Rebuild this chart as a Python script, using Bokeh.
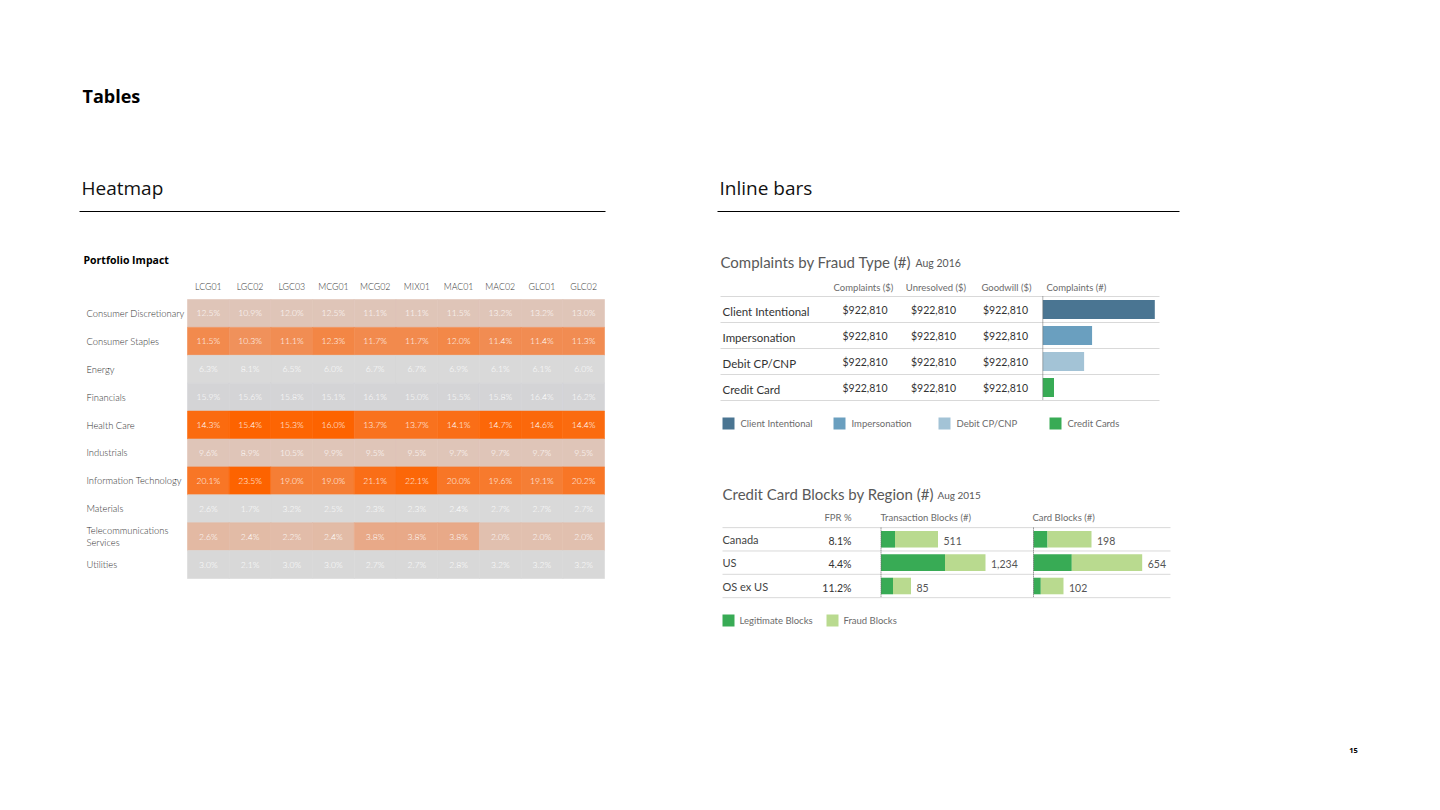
from bokeh.plotting import figure
from bokeh.models import Range1d, LinearColorMapper, ColumnDataSource
from bokeh.core.properties import value
from bokeh.embed import file_html
from bokeh.resources import INLINE

# ---------------- data ----------------
hm_cols = ["LCG01", "LGC02", "LGC03", "MCG01", "MCG02", "MIX01", "MAC01", "MAC02", "GLC01", "GLC02"]
hm_rows = ["Consumer Discretionary", "Consumer Staples", "Energy", "Financials", "Health Care",
           "Industrials", "Information Technology", "Materials", "Telecommunications\nServices", "Utilities"]
hm_values = [
    [12.5, 10.9, 12.0, 12.5, 11.1, 11.1, 11.5, 13.2, 13.2, 13.0],
    [11.5, 10.3, 11.1, 12.3, 11.7, 11.7, 12.0, 11.4, 11.4, 11.3],
    [6.3, 8.1, 6.5, 6.0, 6.7, 6.7, 6.9, 6.1, 6.1, 6.0],
    [15.9, 15.6, 15.8, 15.1, 16.1, 15.0, 15.5, 15.8, 16.4, 16.2],
    [14.3, 15.4, 15.3, 16.0, 13.7, 13.7, 14.1, 14.7, 14.6, 14.4],
    [9.6, 8.9, 10.5, 9.9, 9.5, 9.5, 9.7, 9.7, 9.7, 9.5],
    [20.1, 23.5, 19.0, 19.0, 21.1, 22.1, 20.0, 19.6, 19.1, 20.2],
    [2.6, 1.7, 3.2, 2.5, 2.3, 2.3, 2.4, 2.7, 2.7, 2.7],
    [2.6, 2.4, 2.2, 2.4, 3.8, 3.8, 3.8, 2.0, 2.0, 2.0],
    [3.0, 2.1, 3.0, 3.0, 2.7, 2.7, 2.8, 3.2, 3.2, 3.2],
]
# relative impact score (drives the cell colour)
hm_scores = [
    [1.0, 1.0, 1.0, 1.0, 1.0, 1.0, 1.0, 1.0, 1.0, 1.0],
    [3.0, 2.7, 2.85, 3.1, 3.0, 3.0, 3.05, 2.9, 2.9, 2.9],
    [0.0, 0.0, 0.0, 0.0, 0.0, 0.0, 0.0, 0.0, 0.0, 0.0],
    [-0.4, -0.4, -0.4, -0.4, -0.4, -0.4, -0.4, -0.4, -0.4, -0.4],
    [3.8, 4.0, 3.95, 4.0, 3.6, 3.6, 3.7, 3.9, 3.85, 3.8],
    [1.0, 1.0, 1.0, 1.0, 1.0, 1.0, 1.0, 1.0, 1.0, 1.0],
    [3.5, 4.0, 3.3, 3.3, 3.7, 3.9, 3.5, 3.4, 3.3, 3.5],
    [0.0, 0.0, 0.0, 0.0, 0.0, 0.0, 0.0, 0.0, 0.0, 0.0],
    [1.35, 1.3, 1.25, 1.3, 1.8, 1.8, 1.8, 1.15, 1.15, 1.15],
    [-0.1, -0.1, -0.1, -0.1, -0.1, -0.1, -0.1, -0.1, -0.1, -0.1],
]

fraud_types = ["Client Intentional", "Impersonation", "Debit  CP/CNP", "Credit Card"]
legend_types = ["Client Intentional", "Impersonation", "Debit CP/CNP", "Credit Cards"]
complaints_usd = [922810, 922810, 922810, 922810]
unresolved_usd = [922810, 922810, 922810, 922810]
goodwill_usd = [922810, 922810, 922810, 922810]
complaints_count = [2250, 990, 830, 225]

regions = ["Canada", "US", "OS ex US"]
fpr_pct = [8.1, 4.4, 11.2]
tx_legit = [140, 640, 120]
tx_fraud = [430, 405, 180]
tx_total = [511, 1234, 85]
card_legit = [140, 383, 73]
card_fraud = [440, 704, 227]
card_total = [198, 654, 102]

# ---------------- style ----------------
W, H = 1424, 794
X0, X1, Y0, Y1 = 0, W, 0, H
LATO = value("Lato")
LATO_L = value("Lato Light, Lato")
OPEN = value("Open Sans")
type_colors = ["#4a7592", "#6a9fbf", "#a3c3d6", "#38ab55"]
legit_color, fraud_color = "#38ab55", "#b9da8f"


def lin_range(v0, p0, v1, p1, pa, pb):
    f = lambda p: v0 + (p - p0) * (v1 - v0) / (p1 - p0)
    return Range1d(start=f(pa), end=f(pb))


def build_palette(stops, n=256):
    lo, hi = stops[0][0], stops[-1][0]
    out = []
    for k in range(n):
        t = lo + (hi - lo) * k / (n - 1)
        for (a, ca), (b, cb) in zip(stops[:-1], stops[1:]):
            if a <= t <= b:
                u = (t - a) / (b - a)
                c1 = [int(ca[i:i + 2], 16) for i in (1, 3, 5)]
                c2 = [int(cb[i:i + 2], 16) for i in (1, 3, 5)]
                out.append("#%02x%02x%02x" % tuple(round(c1[j] + (c2[j] - c1[j]) * u) for j in range(3)))
                break
    return out


palette = build_palette([(-1, "#cdced1"), (0, "#d9d9d9"), (1, "#dfc5b8"), (2, "#eaa27c"),
                         (3, "#f28a4d"), (4, "#fd6300")])

p = figure(width=W, height=H, output_backend="svg", toolbar_location=None,
           x_range=Range1d(X0, X1), y_range=Range1d(Y1, Y0), min_border=0,
           x_axis_location=None, y_axis_location=None)
p.grid.visible = False
p.outline_line_color = None
p.background_fill_color = "white"
p.border_fill_color = "white"

p.extra_x_ranges = {
    "hm_x": lin_range(-0.5, 187, 9.5, 604, X0, X1),
    "cx": lin_range(0, 1042.3, 2250, 1154.3, X0, X1),
    "tx": lin_range(0, 880.5, 1000, 980.5, X0, X1),
    "kx": lin_range(0, 1033, 1000, 1133, X0, X1),
}
p.extra_y_ranges = {
    "hm_y": lin_range(-0.5, 299, 9.5, 578, Y1, Y0),
    "cy": lin_range(0, 309, 3, 387, Y1, Y0),
    "by": lin_range(0, 538.8, 2, 585.5, Y1, Y0),
}

# ---------------- page titles ----------------
p.text(x=[82], y=[95], text=["Tables"], text_font=OPEN, text_font_style="bold",
       text_font_size="18px", text_color="#000000", text_baseline="middle")
p.text(x=[81, 719], y=[187, 187], text=["Heatmap", "Inline bars"], text_font=OPEN,
       text_font_size="19px", text_color="#111111", text_baseline="middle")
p.segment(x0=[79, 717], y0=[211, 211], x1=[605, 1179], y1=[211, 211], line_color="#000000", line_width=1)
p.text(x=[1353], y=[750], text=["15"], text_font=OPEN, text_font_style="bold", text_font_size="7.5px",
       text_color="#000000", text_align="center", text_baseline="middle")

# ---------------- heatmap ----------------
p.text(x=[83], y=[259], text=["Portfolio Impact"], text_font=OPEN, text_font_style="bold",
       text_font_size="10.5px", text_color="#000000", text_baseline="middle")
cx_, cy_, val_, sc_ = [], [], [], []
for r in range(len(hm_rows)):
    for c in range(len(hm_cols)):
        cx_.append(c); cy_.append(r)
        val_.append("%.1f%%" % hm_values[r][c]); sc_.append(hm_scores[r][c])
hsrc = ColumnDataSource(dict(c=cx_, r=cy_, v=val_, s=sc_))
mapper = LinearColorMapper(palette=palette, low=-1, high=4)
p.rect(x="c", y="r", width=1, height=1, source=hsrc, fill_color={"field": "s", "transform": mapper},
       line_color={"field": "s", "transform": mapper}, line_width=0.6,
       x_range_name="hm_x", y_range_name="hm_y")
p.text(x="c", y="r", text="v", source=hsrc, text_font=LATO_L, text_font_size="8.6px", text_color="white",
       text_align="center", text_baseline="middle", x_range_name="hm_x", y_range_name="hm_y")
p.text(x=list(range(len(hm_cols))), y=[286] * len(hm_cols), text=hm_cols, text_font=LATO_L,
       text_font_size="8.8px", text_color="#333333", text_align="center", text_baseline="middle",
       x_range_name="hm_x")
p.text(x=[86] * len(hm_rows), y=list(range(len(hm_rows))), text=hm_rows, text_font=LATO_L,
       text_font_size="9.4px", text_color="#333333", text_align="left", text_baseline="middle",
       text_line_height=1.1, y_range_name="hm_y")

# ---------------- complaints by fraud type ----------------
p.text(x=[720], y=[261], text=["Complaints by Fraud Type (#)"], text_font=LATO, text_font_size="15px",
       text_color="#595959", text_baseline="middle")
p.text(x=[915], y=[262.5], text=["Aug 2016"], text_font=LATO, text_font_size="10.5px",
       text_color="#595959", text_baseline="middle")
p.text(x=[863, 935.5, 1006], y=[287] * 3, text=["Complaints ($)", "Unresolved ($)", "Goodwill ($)"],
       text_font=LATO, text_font_size="9.5px", text_color="#6b6b6b", text_align="center",
       text_baseline="middle")
p.text(x=[1046], y=[287], text=["Complaints (#)"], text_font=LATO, text_font_size="9.5px",
       text_color="#6b6b6b", text_align="left", text_baseline="middle")
nrow = len(fraud_types)
p.segment(x0=[720] * (nrow + 1), x1=[1159] * (nrow + 1), y0=[i - 0.5 for i in range(nrow + 1)],
          y1=[i - 0.5 for i in range(nrow + 1)], line_color="#d9d9d9", line_width=1, y_range_name="cy")
csrc = ColumnDataSource(dict(
    r=list(range(nrow)), name=fraud_types, n=complaints_count, col=type_colors,
    a=["$" + format(v, ",") for v in complaints_usd],
    u=["$" + format(v, ",") for v in unresolved_usd],
    g=["$" + format(v, ",") for v in goodwill_usd]))
p.hbar(y="r", left=0, right="n", height=0.73, source=csrc, fill_color="col", line_color=None,
       x_range_name="cx", y_range_name="cy")
p.segment(x0=[0], x1=[0], y0=[-0.5], y1=[nrow - 0.5], line_color="#666666", line_width=1,
          line_dash="1 1", x_range_name="cx", y_range_name="cy")
p.text(x=722, y="r", text="name", source=csrc, text_font=LATO, text_font_size="11.5px",
       text_color="#333333", text_baseline="middle", y_offset=1.5, y_range_name="cy")
for xc, fld in ((864.5, "a"), (933, "u"), (1005, "g")):
    p.text(x=xc, y="r", text=fld, source=csrc, text_font=LATO, text_font_size="10.5px",
           text_color="#333333", text_align="center", text_baseline="middle", y_range_name="cy")
# legend
lx = [722, 833, 938, 1049]
p.quad(left=lx, right=[v + 12 for v in lx], top=[417] * 4, bottom=[429] * 4, fill_color=type_colors,
       line_color=None)
p.text(x=[v + 18 for v in lx], y=[423] * 4, text=legend_types, text_font=LATO, text_font_size="9.5px",
       text_color="#6b6b6b", text_baseline="middle")

# ---------------- credit card blocks ----------------
p.text(x=[722], y=[493], text=["Credit Card Blocks by Region (#)"], text_font=LATO, text_font_size="15px",
       text_color="#595959", text_baseline="middle")
p.text(x=[937], y=[494.5], text=["Aug 2015"], text_font=LATO, text_font_size="10px",
       text_color="#595959", text_baseline="middle")
p.text(x=[851], y=[517], text=["FPR %"], text_font=LATO, text_font_size="9.5px", text_color="#6b6b6b",
       text_align="right", text_baseline="middle")
p.text(x=[880, 1032], y=[517, 517], text=["Transaction Blocks (#)", "Card Blocks (#)"], text_font=LATO,
       text_font_size="9.5px", text_color="#6b6b6b", text_align="left", text_baseline="middle")
nb = len(regions)
p.segment(x0=[722] * (nb + 1), x1=[1170] * (nb + 1), y0=[i - 0.5 for i in range(nb + 1)],
          y1=[i - 0.5 for i in range(nb + 1)], line_color="#d9d9d9", line_width=1, y_range_name="by")
bsrc = ColumnDataSource(dict(
    r=list(range(nb)), name=regions, fpr=["%.1f%%" % v for v in fpr_pct],
    tl=tx_legit, tt=[a + b for a, b in zip(tx_legit, tx_fraud)], tlab=[format(v, ",") for v in tx_total],
    kl=card_legit, kt=[a + b for a, b in zip(card_legit, card_fraud)], klab=[format(v, ",") for v in card_total]))
for xr, lf, tf, lab in (("tx", "tl", "tt", "tlab"), ("kx", "kl", "kt", "klab")):
    p.hbar(y="r", left=0, right=lf, height=0.71, source=bsrc, fill_color=legit_color, line_color=None,
           x_range_name=xr, y_range_name="by")
    p.hbar(y="r", left=lf, right=tf, height=0.71, source=bsrc, fill_color=fraud_color, line_color=None,
           x_range_name=xr, y_range_name="by")
    p.text(x=tf, y="r", text=lab, source=bsrc, text_font=LATO, text_font_size="10.5px",
           text_color="#555555", text_baseline="middle", x_offset=5.5, y_offset=1.5,
           x_range_name=xr, y_range_name="by")
    p.segment(x0=[0], x1=[0], y0=[-0.5], y1=[nb - 0.5], line_color="#666666", line_width=1,
              line_dash="1 1", x_range_name=xr, y_range_name="by")
p.text(x=722, y="r", text="name", source=bsrc, text_font=LATO, text_font_size="11px",
       text_color="#444444", text_baseline="middle", y_range_name="by")
p.text(x=851, y="r", text="fpr", source=bsrc, text_font=LATO, text_font_size="10.5px",
       text_color="#333333", text_align="right", text_baseline="middle", y_offset=1.5, y_range_name="by")
gx = [722, 826]
p.quad(left=gx, right=[v + 12 for v in gx], top=[614, 614], bottom=[626, 626],
       fill_color=[legit_color, fraud_color], line_color=None)
p.text(x=[v + 17 for v in gx], y=[620, 620], text=["Legitimate Blocks", "Fraud Blocks"], text_font=LATO,
       text_font_size="9.5px", text_color="#6b6b6b", text_baseline="middle")

open("out.html", "w").write(file_html(p, INLINE))
